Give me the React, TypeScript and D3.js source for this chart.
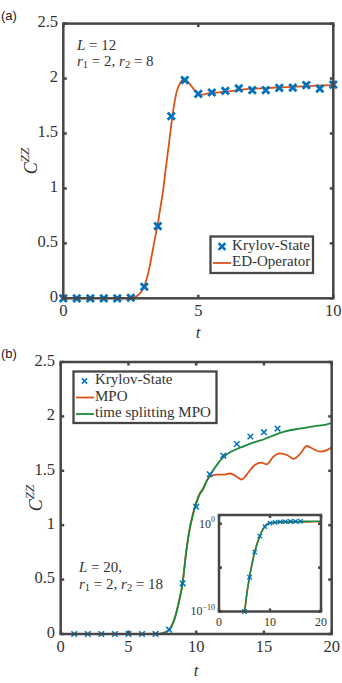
import React from "react";
import * as d3 from "d3";

// ---------- Panel (a) data ----------
const aKrylovT = [0, 0.5, 1, 1.5, 2, 2.5, 3, 3.5, 4, 4.5, 5, 5.5, 6, 6.5, 7, 7.5, 8, 8.5, 9, 9.5, 10];
const aKrylovC = [0, 0, 0, 0, 0, 0.005, 0.105, 0.657, 1.657, 1.985, 1.86, 1.873, 1.887, 1.91, 1.894, 1.894, 1.915, 1.918, 1.94, 1.909, 1.945];
const aEdT = [0, 0.5, 1, 1.5, 2, 2.4, 2.6, 2.8, 3.0, 3.2, 3.3, 3.4, 3.5, 3.6, 3.7, 3.8, 3.93, 4.07, 4.2, 4.32, 4.44, 4.57, 4.7, 4.81, 4.9, 5.0, 5.12, 5.25, 5.43, 5.68, 6.0, 6.3, 6.6, 6.9, 7.5, 8.0, 8.8, 9.4, 10];
const aEdC = [0, 0, 0, 0, 0, 0.001, 0.006, 0.035, 0.11, 0.29, 0.42, 0.55, 0.68, 0.83, 0.99, 1.19, 1.44, 1.71, 1.88, 1.955, 1.99, 1.98, 1.945, 1.91, 1.88, 1.862, 1.853, 1.858, 1.868, 1.872, 1.88, 1.888, 1.898, 1.906, 1.913, 1.92, 1.928, 1.935, 1.94];

// ---------- Panel (b) data ----------
const bKrylovT = [1, 2, 3, 4, 5, 6, 7, 8, 9, 10, 11, 12, 13, 14, 15, 16];
const bKrylovC = [1e-20, 1e-17, 1e-15, 1e-12, 1e-10, 8e-7, 6e-4, 0.04, 0.466, 1.17, 1.468, 1.64, 1.746, 1.815, 1.855, 1.888];
const bTsT = [0, 1, 2, 3, 4, 4.5, 5, 5.5, 6, 6.5, 7, 7.5, 8, 8.25, 8.5, 8.75, 9, 9.25, 9.5, 9.75, 10, 10.25, 10.5, 10.75, 11, 11.5, 12, 12.5, 13, 13.5, 14, 14.5, 15, 15.5, 16, 16.5, 17, 17.5, 18, 18.5, 19, 19.5, 20];
const bTsC = [1e-22, 1e-19, 1e-17, 1e-15, 1e-12, 1e-11, 1e-10, 1.5e-8, 1e-6, 3e-5, 6e-4, 0.006, 0.037, 0.09, 0.18, 0.31, 0.47, 0.74, 0.95, 1.09, 1.2, 1.28, 1.33, 1.4, 1.455, 1.55, 1.625, 1.67, 1.7, 1.725, 1.75, 1.77, 1.79, 1.815, 1.84, 1.86, 1.875, 1.885, 1.895, 1.905, 1.915, 1.922, 1.94];
const bMpoT = [0, 1, 2, 3, 4, 4.5, 5, 5.5, 6, 6.5, 7, 7.5, 8, 8.25, 8.5, 8.75, 9, 9.25, 9.5, 9.75, 10, 10.25, 10.5, 10.75, 11, 11.5, 12, 12.5, 13, 13.35, 13.7, 14.0, 14.35, 14.8, 15.2, 15.7, 16.2, 16.7, 17.2, 17.7, 18.15, 18.65, 19.15, 19.65, 20];
const bMpoC = [1e-22, 1e-19, 1e-17, 1e-15, 1e-12, 1e-11, 1e-10, 1.5e-8, 1e-6, 3e-5, 6e-4, 0.006, 0.037, 0.09, 0.18, 0.31, 0.47, 0.745, 0.955, 1.1, 1.21, 1.29, 1.335, 1.4, 1.445, 1.465, 1.465, 1.475, 1.445, 1.42, 1.46, 1.51, 1.555, 1.575, 1.56, 1.63, 1.66, 1.645, 1.61, 1.66, 1.728, 1.70, 1.676, 1.69, 1.716];

// ---------- Tick labels ----------
const aXTicks = [0, 5, 10];
const yTicks = [0, 0.5, 1, 1.5, 2, 2.5];
const bXTicks = [0, 5, 10, 15, 20];
const insetXTicks = [0, 10, 20];
const insetYTicks = [1e-10, 1e-5, 1];
const insetYLabels = [{ v: 1e-10, e: "−10" }, { v: 1, e: "0" }];

const BLUE = "#0072BD";
const ORANGE = "#D95319";
const GREEN = "#1B8A3C";
const AX = "#464646";
const TXT = "#333333";
const SERIF = "'Liberation Serif', 'DejaVu Serif', serif";
const SANS = "'Liberation Sans', Arial, sans-serif";

const fmt = (v: number) => String(v);

function Frame({ x, y, xTicks, yTicks, tickLen, sw }: any) {
  const [x0, x1] = x.range();
  const [yb, yt] = y.range();
  return (
    <g stroke={AX} strokeWidth={sw} fill="none">
      {xTicks.map((t: number) => (
        <g key={"x" + t}>
          <line x1={x(t)} x2={x(t)} y1={yb} y2={yb - tickLen} />
          <line x1={x(t)} x2={x(t)} y1={yt} y2={yt + tickLen} />
        </g>
      ))}
      {yTicks.map((t: number) => (
        <g key={"y" + t}>
          <line x1={x0} x2={x0 + tickLen} y1={y(t)} y2={y(t)} />
          <line x1={x1} x2={x1 - tickLen} y1={y(t)} y2={y(t)} />
        </g>
      ))}
      <rect x={x0} y={yt} width={x1 - x0} height={yb - yt} />
    </g>
  );
}

function XMark({ cx, cy, r, color, sw }: any) {
  return (
    <path
      d={`M${cx - r},${cy - r}L${cx + r},${cy + r}M${cx - r},${cy + r}L${cx + r},${cy - r}`}
      stroke={color}
      strokeWidth={sw}
      fill="none"
    />
  );
}

function CLabel({ cx, cy }: any) {
  return (
    <text
      transform={`translate(${cx},${cy}) rotate(-90)`}
      textAnchor="middle"
      fontFamily={SERIF}
      fontStyle="italic"
      fontSize={18}
      fill={TXT}
      dominantBaseline="middle"
    >
      C
      <tspan fontSize={13} dy={-7}>ZZ</tspan>
    </text>
  );
}

export default function App() {
  const xA = d3.scaleLinear().domain([0, 10]).range([63.3, 333.3]);
  const yA = d3.scaleLinear().domain([0, 2.5]).range([298.3, 23.6]);
  const xB = d3.scaleLinear().domain([0, 20]).range([60.7, 331.7]);
  const yB = d3.scaleLinear().domain([0, 2.5]).range([634, 362]);
  const xI = d3.scaleLinear().domain([0, 20]).range([219, 321]);
  const yI = d3.scaleLog().domain([1e-10, 10]).range([611.5, 515]);

  const lineA = d3
    .line<number>()
    .x((_, i) => xA(aEdT[i]))
    .y((d) => yA(d))
    .curve(d3.curveMonotoneX);

  const mkLineB = (ts: number[]) =>
    d3
      .line<number>()
      .x((_, i) => xB(ts[i]))
      .y((d) => yB(d))
      .curve(d3.curveMonotoneX);
  const mkLineI = (ts: number[]) =>
    d3
      .line<number>()
      .x((_, i) => xI(ts[i]))
      .y((d) => yI(Math.max(d, 1e-14)))
      .curve(d3.curveMonotoneX);

  const fs = 16.5;
  const lfs = 15;

  return (
    <svg
      width={342}
      height={683}
      style={{ position: "absolute", left: 0, top: 0, background: "#fff" }}
    >
      <defs>
        <clipPath id="clipA">
          <rect x={63.3} y={23.6} width={270} height={274.7} />
        </clipPath>
        <clipPath id="clipB">
          <rect x={60.7} y={362} width={271} height={272} />
        </clipPath>
        <clipPath id="clipI">
          <rect x={219} y={515} width={102} height={96.5} />
        </clipPath>
      </defs>

      {/* ================= Panel (a) ================= */}
      <text x={1} y={20} fontFamily={SANS} fontSize={13} fill="#222">(a)</text>
      <path d={lineA(aEdC) || ""} fill="none" stroke={ORANGE} strokeWidth={1.8} clipPath="url(#clipA)" />
      {aKrylovT.map((t, i) => (
        <XMark key={"ak" + i} cx={xA(t)} cy={yA(aKrylovC[i])} r={3.6} color={BLUE} sw={2.8} />
      ))}
      <Frame x={xA} y={yA} xTicks={aXTicks} yTicks={yTicks} tickLen={3.5} sw={2.5} />
      {aXTicks.map((t) => (
        <text key={"axl" + t} x={xA(t)} y={312} textAnchor="middle" dominantBaseline="middle" fontFamily={SERIF} fontSize={fs} fill={TXT}>
          {fmt(t)}
        </text>
      ))}
      {yTicks.map((t) => (
        <text key={"ayl" + t} x={58} y={yA(t)} textAnchor="end" dominantBaseline="middle" fontFamily={SERIF} fontSize={fs} fill={TXT}>
          {fmt(t)}
        </text>
      ))}
      <text x={198} y={334} textAnchor="middle" dominantBaseline="middle" fontFamily={SERIF} fontStyle="italic" fontSize={17} fill={TXT}>t</text>
      <CLabel cx={33} cy={161} />
      <text x={77} y={47} dominantBaseline="middle" fontFamily={SERIF} fontSize={lfs} fill={TXT}>
        <tspan fontStyle="italic">L</tspan> = 12
      </text>
      <text x={77} y={63} dominantBaseline="middle" fontFamily={SERIF} fontSize={lfs} fill={TXT}>
        <tspan fontStyle="italic">r</tspan>
        <tspan fontSize={10.5} dy={3}>1</tspan>
        <tspan dy={-3}> = 2, </tspan>
        <tspan fontStyle="italic">r</tspan>
        <tspan fontSize={10.5} dy={3}>2</tspan>
        <tspan dy={-3}> = 8</tspan>
      </text>
      {/* legend (a) */}
      <g>
        <rect x={210.5} y={236.5} width={102.5} height={36.5} fill="#fff" stroke={AX} strokeWidth={2.3} />
        <XMark cx={222} cy={246.5} r={3.4} color={BLUE} sw={2.6} />
        <text x={232} y={246.5} dominantBaseline="middle" fontFamily={SERIF} fontSize={lfs} fill={TXT} textLength={78}>Krylov-State</text>
        <line x1={213} x2={231} y1={263} y2={263} stroke={ORANGE} strokeWidth={1.8} />
        <text x={232} y={263} dominantBaseline="middle" fontFamily={SERIF} fontSize={lfs} fill={TXT}>ED-Operator</text>
      </g>

      {/* ================= Panel (b) ================= */}
      <text x={1} y={358} fontFamily={SANS} fontSize={13} fill="#222">(b)</text>
      <g clipPath="url(#clipB)">
        <path d={mkLineB(bMpoT)(bMpoC) || ""} fill="none" stroke={ORANGE} strokeWidth={1.8} />
        <path d={mkLineB(bTsT)(bTsC) || ""} fill="none" stroke={GREEN} strokeWidth={1.8} />
      </g>
      {bKrylovT.map((t, i) => (
        <XMark key={"bk" + i} cx={xB(t)} cy={yB(bKrylovC[i])} r={2.8} color={BLUE} sw={1.5} />
      ))}
      <Frame x={xB} y={yB} xTicks={bXTicks} yTicks={yTicks} tickLen={3.5} sw={2.5} />
      {bXTicks.map((t) => (
        <text key={"bxl" + t} x={xB(t)} y={648} textAnchor="middle" dominantBaseline="middle" fontFamily={SERIF} fontSize={fs} fill={TXT}>
          {fmt(t)}
        </text>
      ))}
      {yTicks.map((t) => (
        <text key={"byl" + t} x={55} y={yB(t)} textAnchor="end" dominantBaseline="middle" fontFamily={SERIF} fontSize={fs} fill={TXT}>
          {fmt(t)}
        </text>
      ))}
      <text x={196} y={672} textAnchor="middle" dominantBaseline="middle" fontFamily={SERIF} fontStyle="italic" fontSize={17} fill={TXT}>t</text>
      <CLabel cx={38} cy={498} />
      <text x={79} y={569} dominantBaseline="middle" fontFamily={SERIF} fontSize={lfs} fill={TXT}>
        <tspan fontStyle="italic">L</tspan> = 20,
      </text>
      <text x={79} y={586} dominantBaseline="middle" fontFamily={SERIF} fontSize={lfs} fill={TXT}>
        <tspan fontStyle="italic">r</tspan>
        <tspan fontSize={10.5} dy={3}>1</tspan>
        <tspan dy={-3}> = 2, </tspan>
        <tspan fontStyle="italic">r</tspan>
        <tspan fontSize={10.5} dy={3}>2</tspan>
        <tspan dy={-3}> = 18</tspan>
      </text>
      {/* legend (b) */}
      <g>
        <rect x={73.5} y={371.5} width={143} height={51.5} fill="#fff" stroke={AX} strokeWidth={2.3} />
        <XMark cx={84.5} cy={381} r={2.6} color={BLUE} sw={1.5} />
        <text x={95} y={381} dominantBaseline="middle" fontFamily={SERIF} fontSize={lfs} fill={TXT}>Krylov-State</text>
        <line x1={76} x2={94} y1={397.5} y2={397.5} stroke={ORANGE} strokeWidth={1.8} />
        <text x={95} y={397.5} dominantBaseline="middle" fontFamily={SERIF} fontSize={lfs} fill={TXT}>MPO</text>
        <line x1={76} x2={94} y1={414} y2={414} stroke={GREEN} strokeWidth={1.8} />
        <text x={95} y={414} dominantBaseline="middle" fontFamily={SERIF} fontSize={lfs} fill={TXT}>time splitting MPO</text>
      </g>

      {/* ================= Inset ================= */}
      <rect x={219} y={515} width={102} height={96.5} fill="#fff" />
      <g clipPath="url(#clipI)">
        <path d={mkLineI(bMpoT)(bMpoC) || ""} fill="none" stroke={ORANGE} strokeWidth={1.6} />
        <path d={mkLineI(bTsT)(bTsC) || ""} fill="none" stroke={GREEN} strokeWidth={1.6} />
      </g>
      {bKrylovT.map((t, i) =>
        bKrylovC[i] >= 1e-10 ? (
          <XMark key={"ik" + i} cx={xI(t)} cy={yI(bKrylovC[i])} r={2.2} color={BLUE} sw={1.3} />
        ) : null
      )}
      <Frame x={xI} y={yI} xTicks={insetXTicks} yTicks={insetYTicks} tickLen={3} sw={2.5} />
      {insetXTicks.map((t) => (
        <text key={"ixl" + t} x={xI(t)} y={623} textAnchor="middle" dominantBaseline="middle" fontFamily={SERIF} fontSize={12} fill={TXT}>
          {fmt(t)}
        </text>
      ))}
      {insetYLabels.map((d) => (
        <text key={"iyl" + d.e} x={215} y={yI(d.v) + 1} textAnchor="end" dominantBaseline="middle" fontFamily={SERIF} fontSize={12} fill={TXT}>
          10
          <tspan fontSize={8} dy={-5}>{d.e}</tspan>
        </text>
      ))}
    </svg>
  );
}
